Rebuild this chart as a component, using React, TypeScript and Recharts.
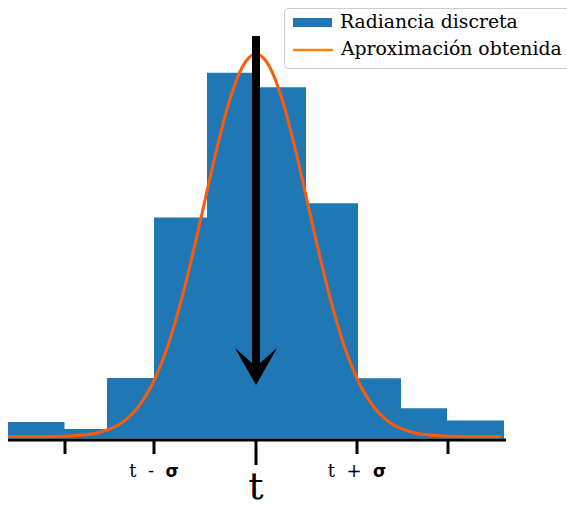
import React from "react";
import {
  ComposedChart,
  Area,
  Line,
  XAxis,
  YAxis,
  ReferenceLine,
  ReferenceDot,
  Legend,
} from "recharts";

// Histogram bins (left edges + final right edge), in px-like units around t = 0
const binEdges = [-248, -191.5, -149, -102, -49, 0, 50, 102, 145, 191, 248];
const binHeights = [4.1, 2.4, 15.1, 55.25, 91.45, 87.8, 58.8, 15.05, 7.55, 4.5];

// Fitted curve points
const curveX = [-248, -208, -182, -156, -130, -117, -104, -91, -78, -65, -52, -39, -26, -13, 0, 13, 26, 39, 52, 65, 78, 91, 104, 117, 130, 156, 182, 208, 246];
const curveY = [0.5, 0.53, 0.71, 1.56, 4.7, 8.11, 13.44, 21.18, 31.54, 44.27, 58.48, 72.66, 84.87, 93.16, 96.1, 93.16, 84.87, 72.66, 58.48, 44.27, 31.54, 21.18, 13.44, 8.11, 4.7, 1.56, 0.71, 0.53, 0.5];

// Axis ticks
const tickValues = [-191, -102, 0, 101, 192];
const tickLabels = ["", "t - σ", "t", "t + σ", ""];

// Arrow (top, shaft end, tip) at t = 0
const arrowX = 0;
const arrowTop = 100.6;
const arrowShaftEnd = 17;
const arrowTip = 13.4;

const seriesNames = ["Radiancia discreta", "Aproximación obtenida"];

const histData = binEdges.map((x, i) => ({
  x,
  h: i < binHeights.length ? binHeights[i] : binHeights[binHeights.length - 1],
}));
const curveData = curveX.map((x, i) => ({ x, y: curveY[i] }));

const BLUE = "#1f77b4";
const ORANGE = "#ff5a0a";

function Tick(props: any) {
  const { x, y, payload } = props;
  const idx = tickValues.indexOf(payload.value);
  const label = idx >= 0 ? tickLabels[idx] : "";
  const isCenter = payload.value === 0;
  return (
    <g>
      <line x1={x} x2={x} y1={y} y2={y + (isCenter ? 25 : 14)} stroke="#000" strokeWidth={3} />
      {isCenter ? (
        <text x={x} y={y + 59} textAnchor="middle" fontFamily="DejaVu Serif" fontSize={38} fill="#000">
          {label}
        </text>
      ) : label ? (
        <text x={x} y={y + 37} textAnchor="middle" fontSize={18} fill="#000" style={{ whiteSpace: "pre" }}>
          <tspan fontFamily="DejaVu Serif">{label.slice(0, 1)}</tspan>
          <tspan fontFamily="DejaVu Serif">{"  " + label.slice(2, 3) + "  "}</tspan>
          <tspan fontFamily="DejaVu Sans" fontWeight="bold" fontSize={17}>{label.slice(4)}</tspan>
        </text>
      ) : null}
    </g>
  );
}

function ArrowHead(props: any) {
  const { cx, cy } = props;
  if (cx == null || cy == null) return null;
  const pts = [
    [cx, cy],
    [cx - 21, cy - 37],
    [cx - 4, cy - 22],
    [cx + 4, cy - 22],
    [cx + 21, cy - 37],
  ]
    .map((p) => p.join(","))
    .join(" ");
  return <polygon points={pts} fill="#000" />;
}

function LegendBox() {
  return (
    <svg width={290} height={62} style={{ display: "block" }}>
      <rect x={0.5} y={0.5} width={320} height={60} rx={4} fill="#ffffff" fillOpacity={0.85} stroke="#cccccc" />
      <rect x={9} y={10} width={39} height={9} fill={BLUE} />
      <text x={56} y={20} fontFamily="DejaVu Serif" fontSize={18.8} fill="#000">
        {seriesNames[0]}
      </text>
      <line x1={9} x2={49} y1={42} y2={42} stroke="#ff7f0e" strokeWidth={2.5} />
      <text x={57} y={47} fontFamily="DejaVu Serif" fontSize={18.8} fill="#000">
        {seriesNames[1]}
      </text>
    </svg>
  );
}

export default function App() {
  return (
    <div style={{ position: "absolute", left: 0, top: 0, width: 567, height: 508, overflow: "hidden", background: "#fff" }}>
      <ComposedChart width={567} height={508} margin={{ top: 35, right: 61, bottom: 8, left: 8 }}>
        <XAxis
          type="number"
          dataKey="x"
          domain={[-248, 250]}
          ticks={tickValues}
          interval={0}
          allowDataOverflow
          axisLine={{ stroke: "#000", strokeWidth: 3 }}
          tickLine={false}
          tickSize={0}
          tickMargin={0}
          height={60}
          tick={<Tick />}
        />
        <YAxis type="number" domain={[-0.375, 100.875]} hide allowDataOverflow />
        <Area
          data={histData}
          dataKey="h"
          type="stepAfter"
          fill={BLUE}
          fillOpacity={1}
          stroke="none"
          baseValue={0}
          isAnimationActive={false}
          name={seriesNames[0]}
        />
        <Line
          data={curveData}
          dataKey="y"
          type="monotone"
          stroke={ORANGE}
          strokeWidth={3}
          dot={false}
          activeDot={false}
          isAnimationActive={false}
          name={seriesNames[1]}
        />
        <ReferenceLine
          segment={[
            { x: arrowX, y: arrowTop },
            { x: arrowX, y: arrowShaftEnd },
          ]}
          stroke="#000"
          strokeWidth={8}
          ifOverflow="visible"
        />
        <ReferenceDot x={arrowX} y={arrowTip} shape={<ArrowHead />} ifOverflow="visible" />
        <Legend
          layout="horizontal"
          verticalAlign="middle"
          align="center"
          wrapperStyle={{ position: "absolute", left: 284, top: 8, width: 290, height: 62 }}
          content={() => <LegendBox />}
        />
      </ComposedChart>
    </div>
  );
}
